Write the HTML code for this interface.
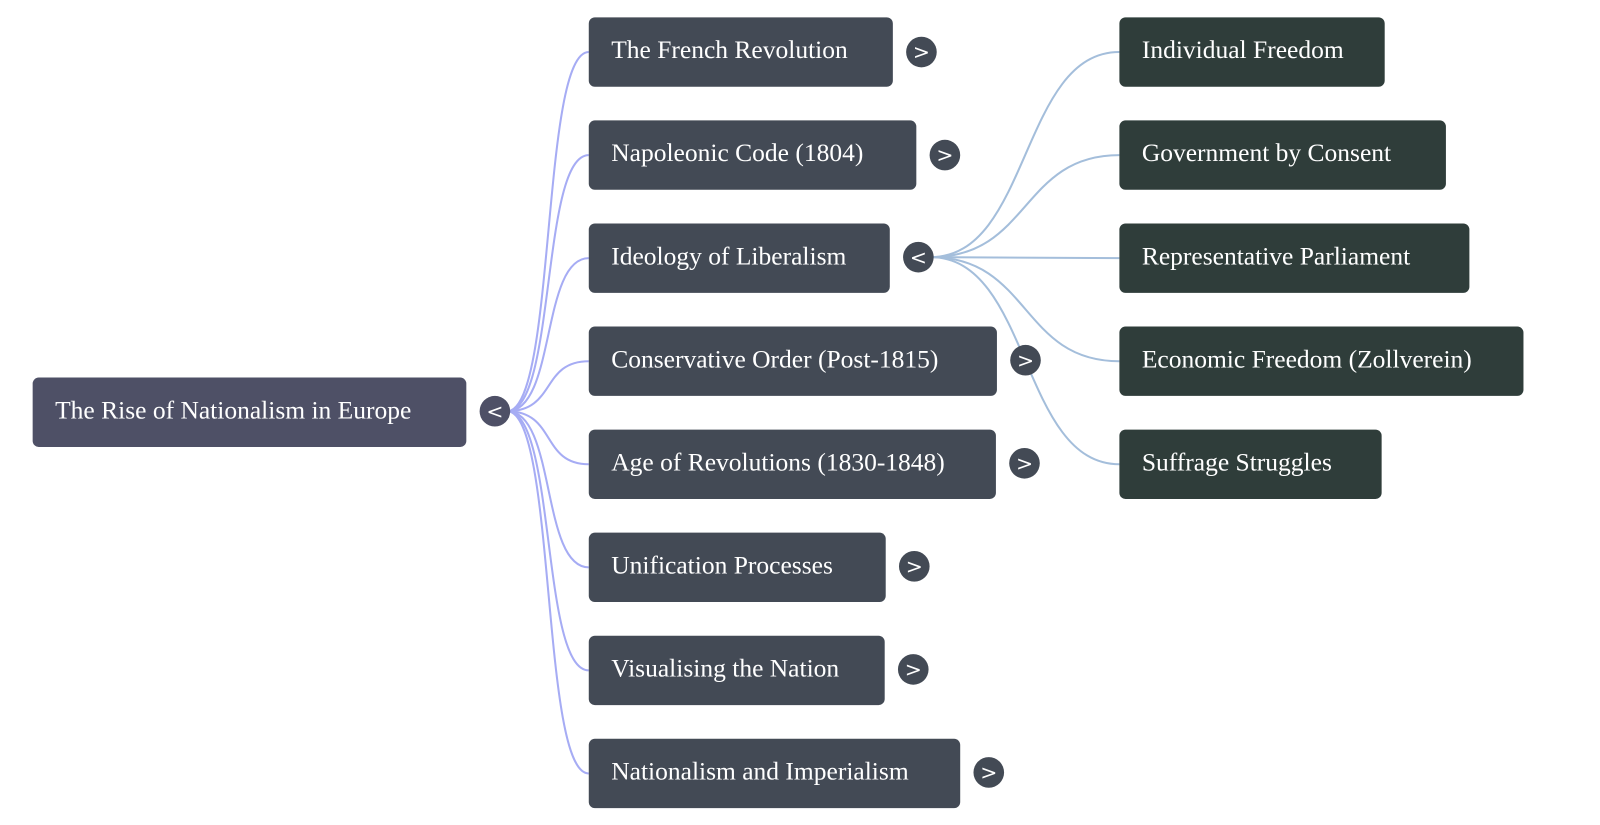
<!DOCTYPE html>
<html><head><meta charset="utf-8"><style>
html,body{margin:0;padding:0;background:#fff;width:1600px;height:825px;overflow:hidden}
svg{display:block}
text{font-family:"Liberation Serif",serif;font-size:25px;fill:#fff}
.c text{font-family:"DejaVu Sans",sans-serif;font-size:20px;text-anchor:middle}
</style></head><body>
<svg width="1600" height="825" viewBox="0 0 1568 808.5" preserveAspectRatio="none" xmlns="http://www.w3.org/2000/svg">
<g fill="none" stroke="#a6acf4" stroke-width="2">
<path d="M497,403 C545,403 530,51 577,51"/>
<path d="M497,403 C545,403 530,152 577,152"/>
<path d="M497,403 C545,403 530,253 577,253"/>
<path d="M497,403 C545,403 530,354 577,354"/>
<path d="M497,403 C545,403 530,455 577,455"/>
<path d="M497,403 C545,403 530,556 577,556"/>
<path d="M497,403 C545,403 530,657 577,657"/>
<path d="M497,403 C545,403 530,758 577,758"/>
</g>
<g fill="none" stroke="#a4bedb" stroke-width="2">
<path d="M912,252 C1010,252 1000,51 1097,51"/>
<path d="M912,252 C1010,252 1000,152 1097,152"/>
<path d="M912,252 L1097,253"/>
<path d="M912,252 C1010,252 1000,354 1097,354"/>
<path d="M912,252 C1010,252 1000,455 1097,455"/>
</g>
<rect x="32" y="370" width="425" height="68" rx="6" fill="#4e5066"/>
<text x="54" y="410">The Rise of Nationalism in Europe</text>
<g fill="#434a55">
<rect x="577" y="17" width="298" height="68" rx="6"/>
<rect x="577" y="118" width="321" height="68" rx="6"/>
<rect x="577" y="219" width="295" height="68" rx="6"/>
<rect x="577" y="320" width="400" height="68" rx="6"/>
<rect x="577" y="421" width="399" height="68" rx="6"/>
<rect x="577" y="522" width="291" height="68" rx="6"/>
<rect x="577" y="623" width="290" height="68" rx="6"/>
<rect x="577" y="724" width="364" height="68" rx="6"/>
</g>
<text x="599" y="57">The French Revolution</text>
<text x="599" y="158">Napoleonic Code (1804)</text>
<text x="599" y="259">Ideology of Liberalism</text>
<text x="599" y="360">Conservative Order (Post-1815)</text>
<text x="599" y="461">Age of Revolutions (1830-1848)</text>
<text x="599" y="562">Unification Processes</text>
<text x="599" y="663">Visualising the Nation</text>
<text x="599" y="764">Nationalism and Imperialism</text>
<g fill="#2f3d3a">
<rect x="1097" y="17" width="260" height="68" rx="6"/>
<rect x="1097" y="118" width="320" height="68" rx="6"/>
<rect x="1097" y="219" width="343" height="68" rx="6"/>
<rect x="1097" y="320" width="396" height="68" rx="6"/>
<rect x="1097" y="421" width="257" height="68" rx="6"/>
</g>
<text x="1119" y="57">Individual Freedom</text>
<text x="1119" y="158">Government by Consent</text>
<text x="1119" y="259">Representative Parliament</text>
<text x="1119" y="360">Economic Freedom (Zollverein)</text>
<text x="1119" y="461">Suffrage Struggles</text>
<g class="c">
<circle cx="485" cy="403" r="15" fill="#4e5066"/><text x="485" y="410">&lt;</text>
<g fill="#434a55">
<circle cx="903" cy="51" r="15"/><circle cx="926" cy="152" r="15"/><circle cx="900" cy="252" r="15"/><circle cx="1005" cy="353" r="15"/><circle cx="1004" cy="454" r="15"/><circle cx="896" cy="555" r="15"/><circle cx="895" cy="656" r="15"/><circle cx="969" cy="757" r="15"/>
</g>
<text x="903" y="58">&gt;</text><text x="926" y="159">&gt;</text><text x="900" y="259">&lt;</text><text x="1005" y="360">&gt;</text><text x="1004" y="461">&gt;</text><text x="896" y="562">&gt;</text><text x="895" y="663">&gt;</text><text x="969" y="764">&gt;</text>
</g>
</svg>
</body></html>
